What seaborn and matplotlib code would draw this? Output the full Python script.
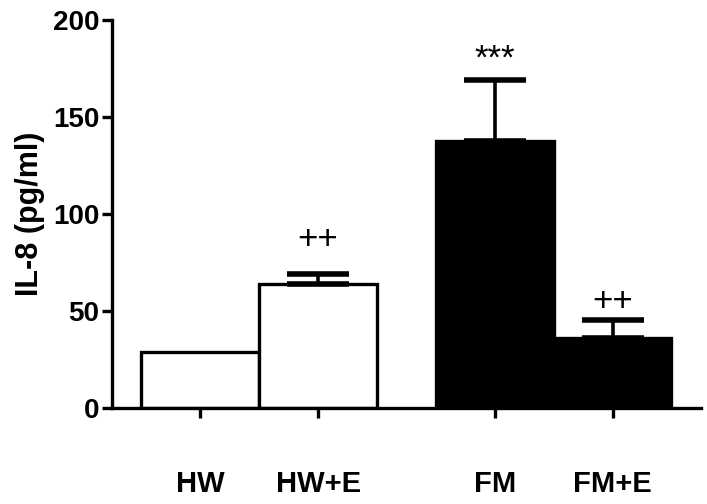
import matplotlib.pyplot as plt
import pandas as pd
import seaborn as sns

plt.switch_backend("Agg")

# === Data ===
GROUPS = ["HW", "HW+E", "FM", "FM+E"]
POSITIONS = [0.0, 1.0, 2.5, 3.5]
MEANS = [29, 64, 137.5, 36]
SEM = [0, 5, 31.5, 9.5]
MARKS = ["", "++", "***", "++"]
MARK_Y = [0, 87, 180, 55]
FILLS = ["white", "white", "black", "black"]


def build_frame() -> pd.DataFrame:
    return pd.DataFrame({"group": GROUPS, "pos": POSITIONS, "il8": MEANS, "sem": SEM})


def main() -> None:
    sns.set_style("ticks", {"axes.edgecolor": "black", "xtick.color": "black",
                            "ytick.color": "black", "text.color": "black",
                            "axes.labelcolor": "black"})
    plt.rcParams["font.family"] = ["Liberation Sans", "DejaVu Sans"]

    df = build_frame()
    fig = plt.figure(figsize=(7.07, 5.04), dpi=100)
    ax = fig.add_axes([0.1584, 0.1905, 0.833, 0.7695])

    sns.barplot(
        data=df,
        x="pos",
        y="il8",
        hue="group",
        palette=dict(zip(GROUPS, FILLS)),
        native_scale=True,
        width=1.0,
        dodge=False,
        edgecolor="black",
        linewidth=2.4,
        errorbar=None,
        legend=False,
        ax=ax,
    )

    # upward-only SEM bars, like the original graph
    for x, m, e in zip(df["pos"], df["il8"], df["sem"]):
        if e <= 0:
            continue
        ax.errorbar(
            x, m, yerr=[[0], [e]], fmt="none", ecolor="black",
            elinewidth=2.6, capsize=22.5, capthick=4.0, zorder=1,
        )
        for cap in ax.lines[-2:]:
            cap.set_solid_capstyle("round")

    for x, y, mark in zip(df["pos"], MARK_Y, MARKS):
        if mark:
            ax.text(x, y, mark, ha="center", va="center", fontsize=25)

    ax.set_xlim(-0.75, 4.25)
    ax.set_ylim(0, 200)
    ax.set_yticks([0, 50, 100, 150, 200])
    ax.set_xticks(POSITIONS, GROUPS)
    ax.set_xlabel("")
    ax.set_ylabel("IL-8 (pg/ml)", fontsize=22, fontweight="bold", labelpad=6)

    for lbl in ax.get_yticklabels():
        lbl.set_fontweight("bold")
    for lbl in ax.get_xticklabels():
        lbl.set_fontweight("bold")
    ax.tick_params(axis="y", labelsize=20, width=2.4, length=7, pad=2)
    ax.tick_params(axis="x", labelsize=21, width=2.4, length=7, pad=38)

    sns.despine(ax=ax)
    for side in ["left", "bottom"]:
        ax.spines[side].set_linewidth(2.4)
        ax.spines[side].set_zorder(5)

    fig.savefig("out.png", dpi=100)
    plt.close(fig)


if __name__ == "__main__":
    main()
